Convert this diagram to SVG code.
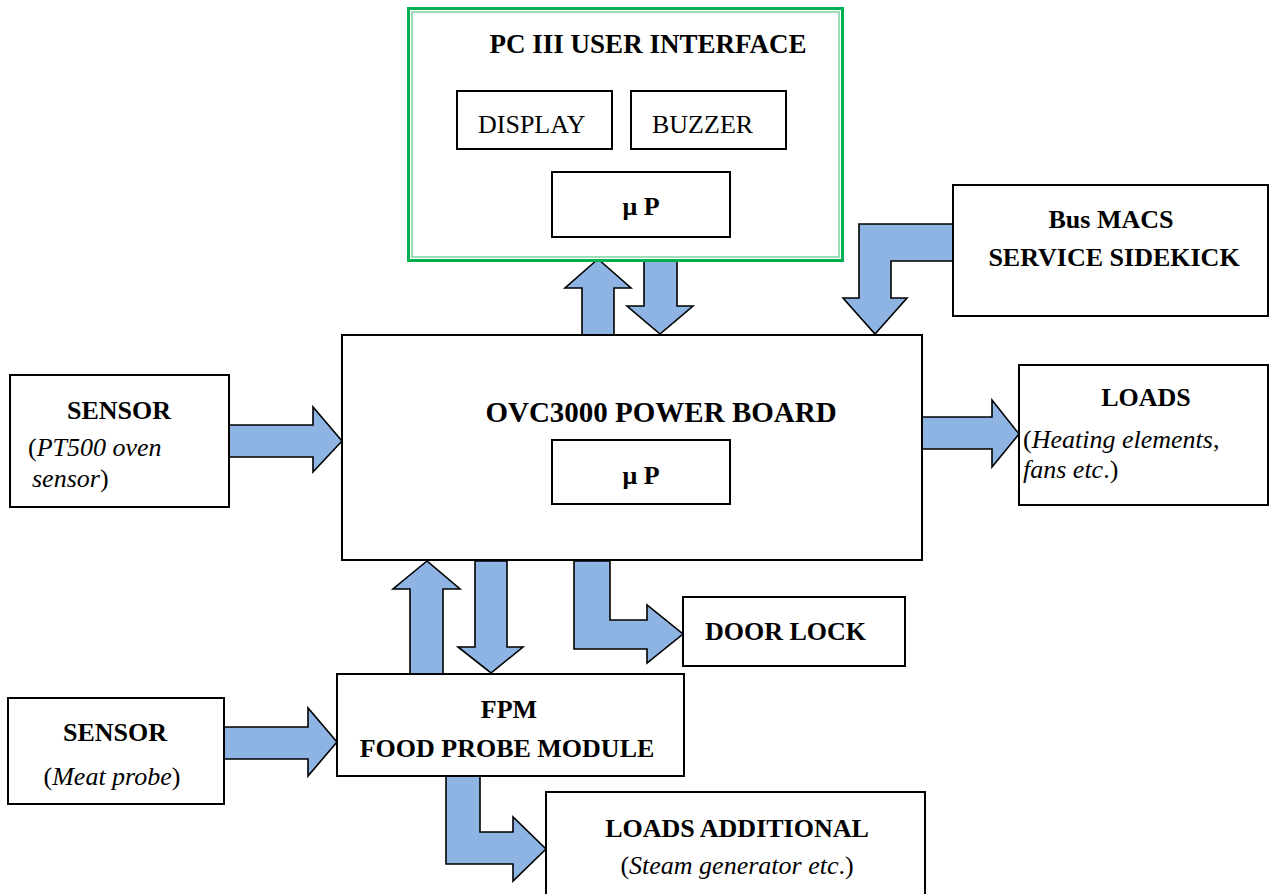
<svg xmlns="http://www.w3.org/2000/svg" width="1269" height="894" viewBox="0 0 1269 894">
<style>
.box{fill:#fff;stroke:#000;stroke-width:2}
.arr{fill:#8EB4E3;stroke:#000;stroke-width:1.6;stroke-linejoin:miter}
text{font-family:"Liberation Serif","Times New Roman",serif;font-size:26px;fill:#000}
.b{font-weight:bold}
.m{text-anchor:middle}
.i{font-style:italic}
</style>
<rect x="0" y="0" width="1269" height="894" fill="#fff"/>
<g id="connectors">
<polygon class="arr" points="582,335 582,288 565,288 598,259 631,288 614,288 614,335"/>
<polygon class="arr" points="644,259 677,259 677,306 693,306 660,334 627,306 644,306"/>
<polygon class="arr" points="953,224 859,224 859,298 843,298 875,334 907,298 891,298 891,261 953,261"/>
<polygon class="arr" points="229,425 313,425 313,407 342,441 313,472 313,457 229,457"/>
<polygon class="arr" points="922,417 992,417 992,400 1019,434 992,467 992,449 922,449"/>
<polygon class="arr" points="410,674 410,589 393,589 427,561 460,589 443,589 443,674"/>
<polygon class="arr" points="475,561 507,561 507,647 523,647 491,673 458,647 475,647"/>
<polygon class="arr" points="574,561 610,561 610,620 647,620 647,605 683,634 647,663 647,649 574,649"/>
<polygon class="arr" points="224,727 308,727 308,708 337,742 308,776 308,759 224,759"/>
<polygon class="arr" points="446,776 480,776 480,832 513,832 513,817 546,849 513,881 513,864 446,864"/>
</g>
<g id="pc3">
<rect x="408.5" y="8.5" width="434" height="252" fill="#fff" stroke="#00B050" stroke-width="3"/>
<rect x="412" y="12" width="427" height="245" fill="none" stroke="#7DD3A0" stroke-width="1.5"/>
<text class="b m" x="648" y="53" style="font-size:27px">PC III USER INTERFACE</text>
</g>
<g id="display">
<rect class="box" x="457" y="91" width="155" height="58"/>
<text x="478" y="133">DISPLAY</text>
</g>
<g id="buzzer">
<rect class="box" x="631" y="91" width="155" height="58"/>
<text x="652" y="133">BUZZER</text>
</g>
<g id="up-pc">
<rect class="box" x="552" y="172" width="178" height="65"/>
<text class="b m" x="641" y="215">μ P</text>
</g>
<g id="busmacs">
<rect class="box" x="953" y="185" width="315" height="131"/>
<text class="b m" x="1111" y="228">Bus MACS</text>
<text class="b m" x="1114" y="266">SERVICE SIDEKICK</text>
</g>
<g id="powerboard">
<rect class="box" x="342" y="335" width="580" height="225"/>
<text class="b m" x="661" y="422" style="font-size:29px">OVC3000 POWER BOARD</text>
</g>
<g id="up-main">
<rect class="box" x="552" y="440" width="178" height="64"/>
<text class="b m" x="641" y="484">μ P</text>
</g>
<g id="sensor1">
<rect class="box" x="10" y="375" width="219" height="132"/>
<text class="b m" x="119" y="419">SENSOR</text>
<text x="28" y="456">(<tspan class="i">PT500 oven</tspan></text>
<text x="32" y="487"><tspan class="i">sensor</tspan>)</text>
</g>
<g id="loads">
<rect class="box" x="1019" y="365" width="249" height="140"/>
<text class="b m" x="1146" y="406">LOADS</text>
<text x="1023" y="448">(<tspan class="i">Heating elements</tspan>,</text>
<text x="1023" y="478"><tspan class="i">fans etc</tspan>.)</text>
</g>
<g id="doorlock">
<rect class="box" x="683" y="597" width="222" height="69"/>
<text class="b" x="705" y="640">DOOR LOCK</text>
</g>
<g id="fpm">
<rect class="box" x="337" y="674" width="347" height="102"/>
<text class="b m" x="509" y="718">FPM</text>
<text class="b m" x="507" y="757">FOOD PROBE MODULE</text>
</g>
<g id="sensor2">
<rect class="box" x="8" y="698" width="216" height="106"/>
<text class="b m" x="115" y="741">SENSOR</text>
<text class="m" x="112" y="785">(<tspan class="i">Meat probe</tspan>)</text>
</g>
<g id="loadsadd">
<rect class="box" x="546" y="792" width="379" height="110"/>
<text class="b m" x="737" y="837">LOADS ADDITIONAL</text>
<text class="m" x="737" y="874">(<tspan class="i">Steam generator etc</tspan>.)</text>
</g>
</svg>
